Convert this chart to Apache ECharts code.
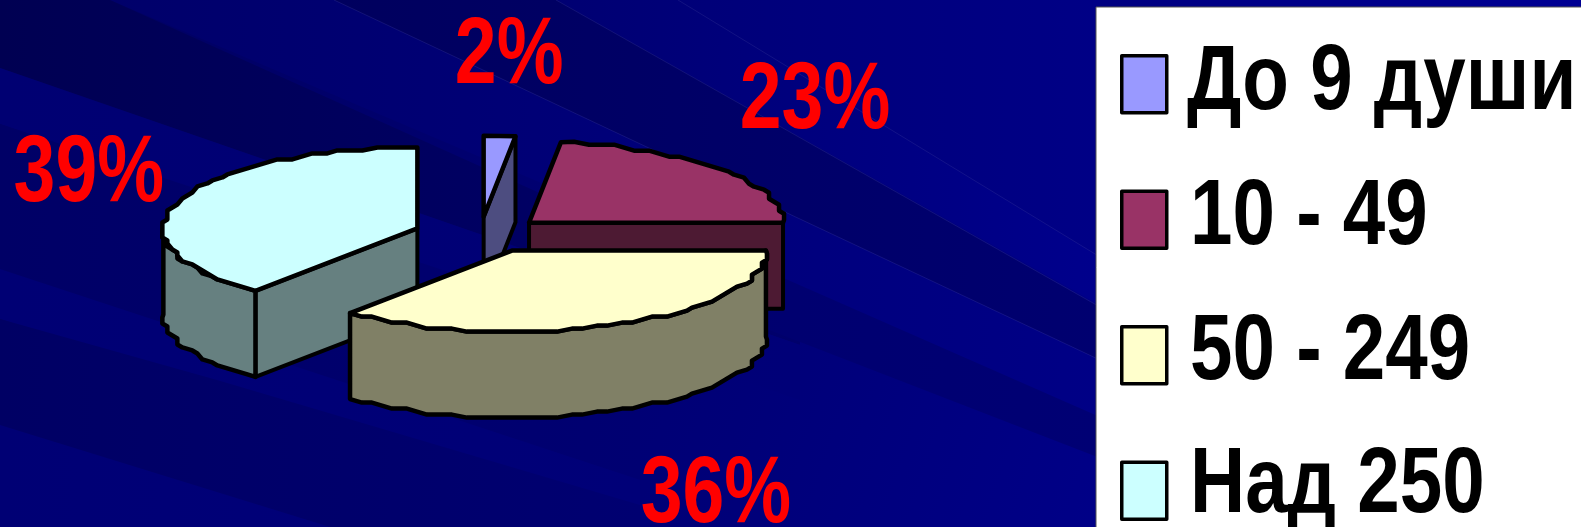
<!DOCTYPE html>
<html>
<head>
<meta charset="utf-8">
<style>html,body{margin:0;padding:0;background:#000070}#chart{width:1581px;height:527px}</style>
<script src="https://cdn.jsdelivr.net/npm/echarts@6/dist/echarts.min.js"></script>
</head>
<body>
<div id="chart"></div>
<script>
// Share of estates by number of serfs
const categories = ['До 9 души', '10 - 49', '50 - 249', 'Над 250'];
const shares = [2, 23, 36, 39];
const topColors = ['#9999FF', '#993366', '#FFFFCC', '#CCFFFF'];
const sideColors = ['#4D4D80', '#4D1A33', '#808066', '#668080'];

// Projection of the tilted pie
const centre = { x: 479.5, y: 234.5 };
const rx = 254, ry = 81, depth = 86, explodeY = 0.22;
const explodeX = [0.26, 0.26, 0.30, 0.26];
const labelOffsets = [[25.5, -160], [286, -121], [204, 245], [-328.5, -53]];

// Legend text, squeezed the way the slide squeezes it
const legendRow = { left: 1190, firstTop: 53, pitch: 135 };
const legendText = [
  { size: 92, squeeze: 0.83, dx: -3, baseline: 63 },
  { size: 92, squeeze: 0.83, dx: 0, baseline: 63 },
  { size: 92, squeeze: 0.83, dx: 0, baseline: 63 },
  { size: 92, squeeze: 0.83, dx: 0, baseline: 61 }
];

// Slide backdrop: diagonal streaks over a blue gradient
const streaks = [
  { pts: [[556, 0], [1100, 0], [1100, 305]], from: '#000074', to: '#000086' },
  { pts: [[678, 0], [1100, 257], [1100, 305], [556, 0]], from: '#000072', to: '#00008C' },
  { pts: [[334, 0], [556, 0], [1100, 307], [1100, 360]], from: '#00005E', to: '#000070' },
  { pts: [[110, 0], [334, 0], [1100, 360], [1100, 420]], from: '#00006A', to: '#000086' },
  { pts: [[0, 0], [110, 0], [800, 310], [800, 345], [0, 68]], from: '#000052', to: '#00006C' },
  { pts: [[0, 68], [800, 345], [800, 400], [0, 124]], from: '#000072', to: '#000078' },
  { pts: [[0, 124], [640, 335], [640, 480], [0, 269]], from: '#000066', to: '#000072' },
  { pts: [[0, 269], [640, 480], [640, 530], [0, 319]], from: '#000074', to: '#000078' },
  { pts: [[0, 319], [217, 380], [640, 505], [640, 527], [330, 527], [0, 425]], from: '#000064', to: '#000071' },
  { pts: [[0, 425], [330, 527], [0, 527]], from: '#000074', to: '#000078' },
  { pts: [[640, 215], [1100, 417], [1100, 458], [640, 280]], from: '#00006E', to: '#000074' }
];
const glints = [
  [[334, 0], [1100, 360]],
  [[556, 0], [1100, 307]],
  [[678, 0], [1100, 257]]
];

const rad = d => d * Math.PI / 180;
const total = shares.reduce((a, b) => a + b, 0);
const spans = [];
shares.reduce((acc, v) => {
  const end = acc + v / total * 360;
  spans.push([acc, end]);
  return end;
}, 0);
const pieCentre = i => {
  const mid = rad((spans[i][0] + spans[i][1]) / 2);
  return {
    x: centre.x + explodeX[i] * rx * Math.sin(mid),
    y: centre.y - explodeY * ry * Math.cos(mid)
  };
};
const rim = (c, t) => [c.x + rx * Math.sin(rad(t)), c.y - ry * Math.cos(rad(t))];

// Arc outline on a coarse raster, which gives the rim its stepped edge
const arc = (c, a, b) => {
  const pts = [rim(c, a)];
  const steps = b - a < 10 ? 1 : Math.ceil((b - a) / 3);
  for (let k = 1; k < steps; k++) {
    const t = a + (b - a) * k / steps;
    const dx = rx * Math.sin(rad(t)), dy = -ry * Math.cos(rad(t));
    pts.push([c.x + Math.round(dx / 5) * 5, c.y + Math.round(dy / 3) * 3]);
  }
  pts.push(rim(c, b));
  return pts;
};
const down = pts => pts.map(p => [p[0], p[1] + depth]);

const faceStyle = (fill, w) => ({ fill, stroke: '#000', lineWidth: w, lineJoin: 'round' });

function renderSlice(params, api) {
  const i = params.seriesIndex;
  const share = api.value(0);
  const [a, b] = spans[i];
  const c = pieCentre(i);
  const kids = [];
  const side = sideColors[i];
  const radial = t => {
    const p = rim(c, t);
    kids.push({
      type: 'polygon',
      shape: { points: [[c.x, c.y], p, [p[0], p[1] + depth], [c.x, c.y + depth]] },
      style: faceStyle(side, 4)
    });
  };
  if (Math.sin(rad(a)) < -1e-6) radial(a);
  if (Math.sin(rad(b)) > 1e-6) radial(b);
  const fa = Math.max(a, 90), fb = Math.min(b, 270);
  if (fb > fa) {
    const edge = arc(c, fa, fb);
    kids.push({
      type: 'polygon',
      shape: { points: edge.concat(down(edge).reverse()) },
      style: faceStyle(side, 4.5)
    });
  }
  kids.push({
    type: 'polygon',
    shape: { points: [[c.x, c.y]].concat(arc(c, a, b)) },
    style: faceStyle(topColors[i], 4.5)
  });
  kids.push({
    type: 'text',
    x: c.x + labelOffsets[i][0],
    y: c.y + labelOffsets[i][1],
    scaleX: 0.8,
    style: {
      text: share + '%',
      fill: '#FF0000',
      fontFamily: '"Liberation Sans"',
      fontWeight: 'bold',
      fontSize: 94,
      align: 'center',
      verticalAlign: 'middle'
    }
  });
  return { type: 'group', children: kids };
}

const gradient = (from, to) => new echarts.graphic.LinearGradient(0, 0, 1, 0, [
  { offset: 0, color: from },
  { offset: 1, color: to }
]);

const backdrop = streaks.map((s, k) => ({
  type: 'polygon',
  z: k - 50,
  silent: true,
  shape: { points: s.pts },
  style: { fill: gradient(s.from, s.to) }
})).concat(glints.map((g, k) => ({
  type: 'polyline',
  z: k - 20,
  silent: true,
  shape: { points: g },
  style: { stroke: 'rgba(90,90,170,0.2)', lineWidth: 1, fill: null }
})));

const legendLabels = categories.map((name, i) => ({
  type: 'text',
  z: 50,
  silent: true,
  x: legendRow.left + legendText[i].dx,
  y: legendRow.firstTop + legendRow.pitch * i + legendText[i].baseline - 0.3465 * legendText[i].size,
  scaleX: legendText[i].squeeze,
  style: {
    text: name,
    fill: '#000',
    fontFamily: '"Liberation Sans"',
    fontWeight: 'bold',
    fontSize: legendText[i].size,
    align: 'left',
    verticalAlign: 'middle'
  }
}));

const chart = echarts.init(document.getElementById('chart'), null, { renderer: 'canvas' });

chart.setOption({
  animation: false,
  backgroundColor: new echarts.graphic.LinearGradient(0, 0, 1, 1, [
    { offset: 0, color: '#000060' },
    { offset: 0.5, color: '#000078' },
    { offset: 1, color: '#00009A' }
  ]),
  graphic: { elements: backdrop.concat(legendLabels) },
  legend: {
    orient: 'vertical',
    left: 1096,
    top: 7,
    height: 700,
    selectedMode: false,
    backgroundColor: '#FFFFFF',
    borderColor: '#555',
    borderWidth: 1,
    padding: [47, 414, 30, 24],
    itemWidth: 45,
    itemHeight: 57,
    itemGap: 75,
    icon: 'rect',
    formatter: () => ' ',
    textStyle: { fontSize: 1, color: '#000' },
    data: categories.map((name, i) => ({
      name,
      icon: 'rect',
      itemStyle: { color: topColors[i], borderColor: '#000', borderWidth: 3.5, borderJoin: 'round' }
    }))
  },
  series: categories.map((name, i) => ({
    type: 'custom',
    name,
    coordinateSystem: 'none',
    z: pieCentre(i).y,
    silent: true,
    itemStyle: { color: topColors[i] },
    data: [[shares[i]]],
    renderItem: renderSlice
  }))
});
</script>
</body>
</html>
